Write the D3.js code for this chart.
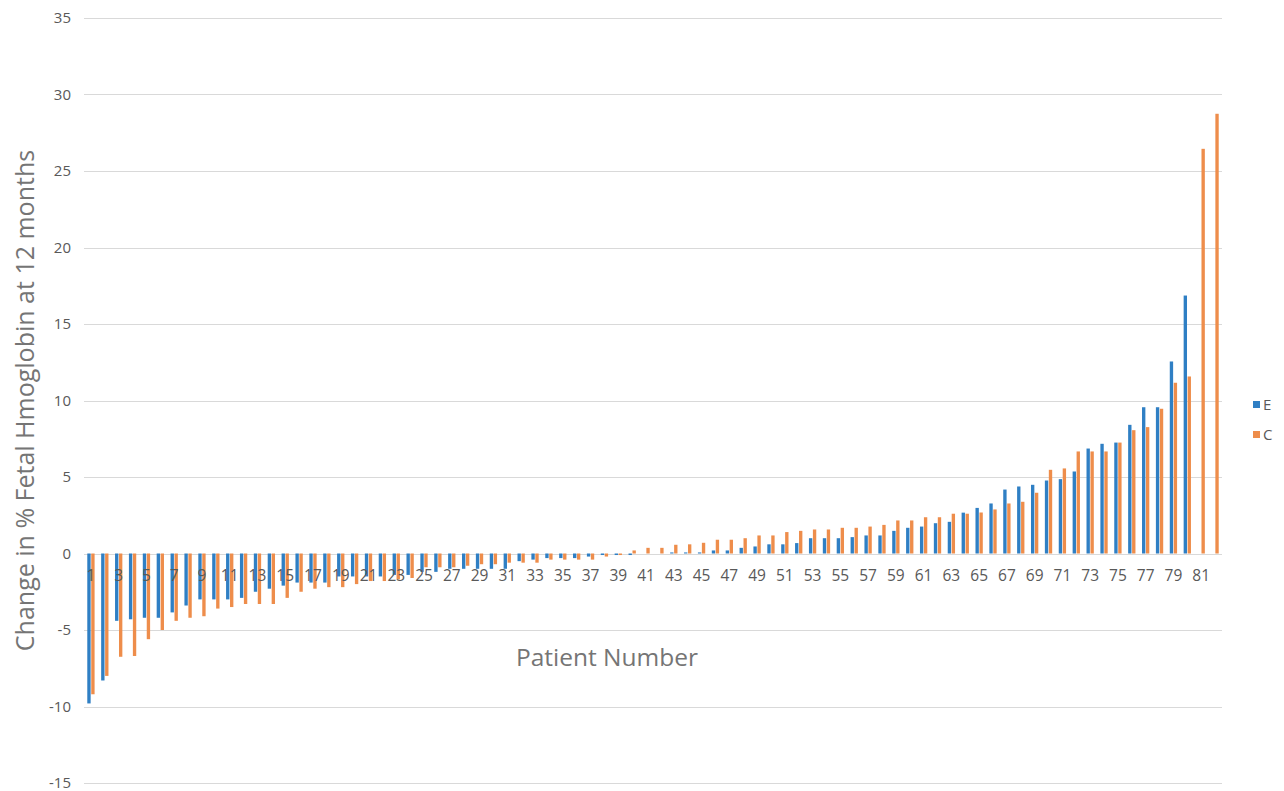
<!DOCTYPE html>
<html>
<head>
<meta charset="utf-8">
<script src="https://cdn.jsdelivr.net/npm/d3@7"></script>
<style>
  body { margin: 0; background: #fff; }
  svg text { font-family: "Open Sans", "Liberation Sans", sans-serif; }
</style>
</head>
<body>
<div id="chart"></div>
<script>
// patient numbers 1..82
const patients = ["1","2","3","4","5","6","7","8","9","10","11","12","13","14","15","16","17","18","19","20",
  "21","22","23","24","25","26","27","28","29","30","31","32","33","34","35","36","37","38","39","40",
  "41","42","43","44","45","46","47","48","49","50","51","52","53","54","55","56","57","58","59","60",
  "61","62","63","64","65","66","67","68","69","70","71","72","73","74","75","76","77","78","79","80",
  "81","82"];

const seriesNames = ["E", "C"];

const valuesE = [-9.8, -8.3, -4.4, -4.3, -4.2, -4.2, -3.85, -3.4, -3.0, -3.0,
  -3.0, -2.9, -2.5, -2.3, -2.1, -1.9, -1.9, -1.9, -1.5, -1.5,
  -1.5, -1.5, -1.4, -1.4, -1.2, -1.2, -1.0, -1.0, -1.0, -1.0,
  -1.0, -0.5, -0.4, -0.3, -0.3, -0.3, -0.2, -0.1, -0.1, -0.1,
  0, 0, 0.07, 0.07, 0.07, 0.2, 0.2, 0.37, 0.46, 0.6,
  0.6, 0.68, 1.0, 1.0, 1.0, 1.07, 1.18, 1.18, 1.48, 1.68,
  1.76, 1.98, 2.07, 2.67, 2.98, 3.27, 4.18, 4.38, 4.49, 4.77,
  4.86, 5.36, 6.86, 7.17, 7.25, 8.41, 9.56, 9.56, 12.55, 16.86,
  null, null];

const valuesC = [-9.2, -8.0, -6.75, -6.7, -5.6, -5.0, -4.4, -4.2, -4.1, -3.6,
  -3.5, -3.3, -3.3, -3.3, -2.9, -2.5, -2.3, -2.2, -2.2, -2.0,
  -1.8, -1.8, -1.7, -1.6, -0.9, -0.9, -0.9, -0.8, -0.7, -0.7,
  -0.6, -0.6, -0.6, -0.4, -0.4, -0.4, -0.4, -0.2, -0.1, 0.2,
  0.37, 0.37, 0.57, 0.6, 0.7, 0.9, 0.9, 1.0, 1.18, 1.18,
  1.4, 1.48, 1.57, 1.57, 1.68, 1.68, 1.76, 1.87, 2.16, 2.16,
  2.37, 2.37, 2.6, 2.6, 2.68, 2.88, 3.27, 3.38, 3.97, 5.47,
  5.56, 6.67, 6.67, 6.67, 7.25, 8.06, 8.26, 9.46, 11.16, 11.57,
  26.45, 28.74];

const yTicks = [-15, -10, -5, 0, 5, 10, 15, 20, 25, 30, 35];

const colors = { E: "#2f7fc4", C: "#ee8d4b" };

const W = 1284, H = 791;
const margin = { top: 18, right: 62, bottom: 8, left: 84 };
const width = W - margin.left - margin.right;
const height = H - margin.top - margin.bottom;

const svg = d3.select("#chart").append("svg")
  .attr("width", W)
  .attr("height", H);

const g = svg.append("g")
  .attr("transform", `translate(${margin.left},${margin.top})`);

const x = d3.scaleBand()
  .domain(patients)
  .range([0, width])
  .paddingInner(0.43)
  .paddingOuter(0.215);

const xs = d3.scaleBand()
  .domain(seriesNames)
  .range([0, x.bandwidth()])
  .padding(0);

const y = d3.scaleLinear()
  .domain([-15, 35])
  .range([height, 0]);

// gridlines
g.append("g")
  .selectAll("line")
  .data(yTicks)
  .join("line")
  .attr("x1", 0)
  .attr("x2", width)
  .attr("y1", d => Math.round(y(d)) + 0.5)
  .attr("y2", d => Math.round(y(d)) + 0.5)
  .attr("stroke", "#d9d9d9")
  .attr("stroke-width", 1);

// y tick labels
g.append("g")
  .selectAll("text")
  .data(yTicks)
  .join("text")
  .attr("x", -13)
  .attr("y", d => y(d))
  .attr("dy", "0.35em")
  .attr("text-anchor", "end")
  .attr("font-size", 15)
  .attr("fill", "#595959")
  .text(d => d);

// bars
const rows = patients.map((p, i) => ({ p, E: valuesE[i], C: valuesC[i] }));

const groups = g.append("g")
  .selectAll("g")
  .data(rows)
  .join("g")
  .attr("transform", d => `translate(${x(d.p)},0)`);

groups.selectAll("rect")
  .data(d => seriesNames.filter(s => d[s] !== null).map(s => ({ s, v: d[s] })))
  .join("rect")
  .attr("x", d => xs(d.s) + 0.3)
  .attr("width", xs.bandwidth() - 0.6)
  .attr("y", d => y(Math.max(0, d.v)))
  .attr("height", d => Math.abs(y(d.v) - y(0)))
  .attr("fill", d => colors[d.s]);

// x tick labels (every other patient)
g.append("g")
  .selectAll("text")
  .data(patients.filter((p, i) => i % 2 === 0))
  .join("text")
  .attr("x", d => x(d) + x.bandwidth() / 2)
  .attr("y", y(0) + 27)
  .attr("text-anchor", "middle")
  .attr("font-size", 15.5)
  .attr("fill", "#595959")
  .text(d => d);

// axis titles
g.append("text")
  .attr("x", width / 2 - 46)
  .attr("y", y(0) + 112)
  .attr("text-anchor", "middle")
  .attr("font-size", 24.5)
  .attr("fill", "#757575")
  .text("Patient Number");

svg.append("text")
  .attr("transform", `translate(34,${margin.top + height / 2}) rotate(-90)`)
  .attr("text-anchor", "middle")
  .attr("font-size", 25)
  .attr("fill", "#757575")
  .text("Change in % Fetal Hmoglobin at 12 months");

// legend
const legend = svg.append("g")
  .attr("transform", `translate(${W - 31},405)`);

legend.selectAll("rect")
  .data(seriesNames)
  .join("rect")
  .attr("x", 0)
  .attr("y", (d, i) => i * 30 - 4)
  .attr("width", 7)
  .attr("height", 7)
  .attr("fill", d => colors[d]);

legend.selectAll("text")
  .data(seriesNames)
  .join("text")
  .attr("x", 10)
  .attr("y", (d, i) => i * 30)
  .attr("dy", "0.35em")
  .attr("font-size", 15)
  .attr("fill", "#595959")
  .text(d => d);
</script>
</body>
</html>
